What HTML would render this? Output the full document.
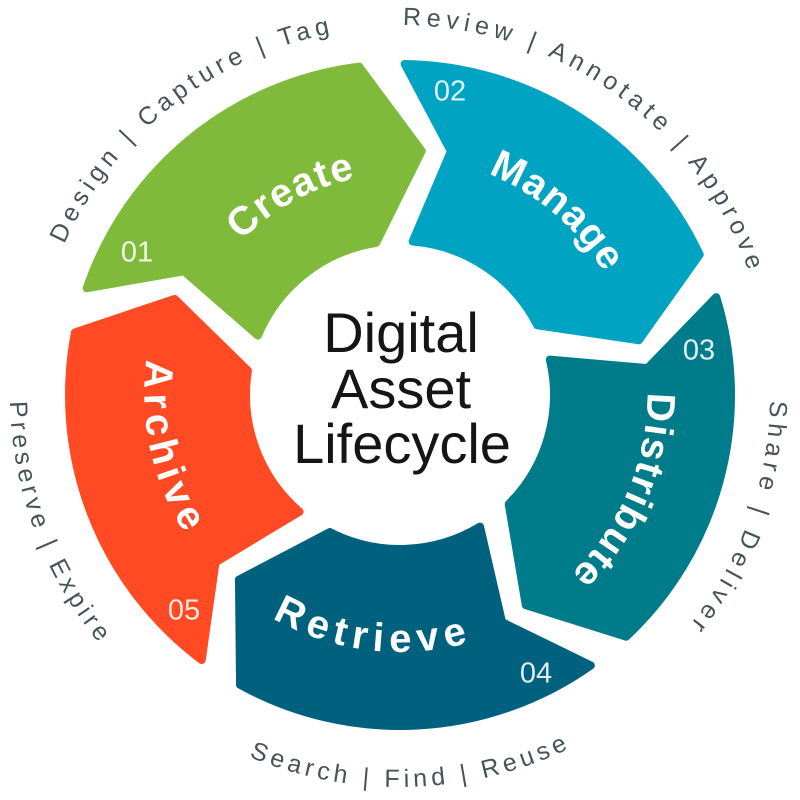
<!DOCTYPE html>
<html>
<head>
<meta charset="utf-8">
<style>
  html, body { margin: 0; padding: 0; background: #ffffff; }
  body { width: 800px; height: 800px; overflow: hidden; }
  svg { display: block; }
  .lbl { font-family: "Liberation Sans", Arial, sans-serif; font-weight: bold; fill: #ffffff; font-size: 40px; }
  .out { font-family: "Liberation Sans", Arial, sans-serif; font-weight: normal; fill: #46545a; font-size: 25px; }
  .num { font-family: "Liberation Sans", Arial, sans-serif; font-weight: 300; fill: #ffffff; fill-opacity: 0.88; font-size: 29px; }
  .title { font-family: "Liberation Sans", Arial, sans-serif; font-weight: normal; fill: #151515; font-size: 56px; }
</style>
</head>
<body>
<svg width="800" height="800" viewBox="0 0 800 800" xmlns="http://www.w3.org/2000/svg">
  <defs>
    <path id="seg" d="M404.62,64.03 A331,331 0 0 1 699.74,254.59 L638.82,340.30 L537.31,325.33 A154,154 0 0 0 412.62,241.52 L450.92,151.26 Z"/>
    <path id="pCreate" d="M205.09,501.27 A222,222 0 0 1 594.91,288.73" fill="none"/>
    <path id="pManage" d="M219.02,240.43 A238,238 0 0 1 580.98,549.57" fill="none"/>
    <path id="pDistribute" d="M497.29,165.8 A249,249 0 0 1 302.71,624.2" fill="none"/>
    <path id="pRetrieve" d="M144.65,365.91 A257,257 0 0 0 655.35,424.09" fill="none"/>
    <path id="pArchive" d="M342.19,144.59 A257,257 0 0 0 457.81,645.41" fill="none"/>
    <path id="oDesign" d="M108.44,622.79 A370,370 0 0 1 691.56,167.21" fill="none"/>
    <path id="oReview" d="M99.91,178.56 A370,370 0 0 1 700.09,611.44" fill="none"/>
    <path id="oShare" d="M526.55,47.31 A370,370 0 0 1 273.45,742.69" fill="none"/>
    <path id="oSearch" d="M8.17,406.63 A392,392 0 0 0 791.83,383.37" fill="none"/>
    <path id="oPreserve" d="M262.72,27.83 A392,392 0 0 0 537.28,762.17" fill="none"/>
  </defs>

  <!-- segments -->
  <g stroke-width="8" stroke-linejoin="round">
    <use href="#seg" fill="#00A4C2" stroke="#00A4C2"/>
    <use href="#seg" transform="rotate(72 400 395)" fill="#007B8A" stroke="#007B8A"/>
    <use href="#seg" transform="rotate(144 400 395)" fill="#00617E" stroke="#00617E"/>
    <use href="#seg" transform="rotate(216 400 395)" fill="#FF4A24" stroke="#FF4A24"/>
    <use href="#seg" transform="rotate(288 400 395)" fill="#80BA3B" stroke="#80BA3B"/>
  </g>

  <!-- segment labels -->
  <text class="lbl" text-anchor="middle" letter-spacing="1.4"><textPath href="#pCreate" startOffset="50%">Create</textPath></text>
  <text class="lbl" text-anchor="middle" letter-spacing="1.2"><textPath href="#pManage" startOffset="50%">Manage</textPath></text>
  <text class="lbl" text-anchor="middle" letter-spacing="1.7"><textPath href="#pDistribute" startOffset="50%">Distribute</textPath></text>
  <text class="lbl" text-anchor="middle" letter-spacing="6.4"><textPath href="#pRetrieve" startOffset="50%">Retrieve</textPath></text>
  <text class="lbl" text-anchor="middle" letter-spacing="5.8"><textPath href="#pArchive" startOffset="50%">Archive</textPath></text>

  <!-- numbers -->
  <text class="num" x="137" y="261.5" text-anchor="middle">01</text>
  <text class="num" x="450" y="100.5" text-anchor="middle">02</text>
  <text class="num" x="699" y="359.5" text-anchor="middle">03</text>
  <text class="num" x="536" y="682.5" text-anchor="middle">04</text>
  <text class="num" x="184" y="619.5" text-anchor="middle">05</text>

  <!-- outer labels -->
  <text class="out" text-anchor="middle" letter-spacing="5.0"><textPath href="#oDesign" startOffset="50%">Design | Capture | Tag</textPath></text>
  <text class="out" text-anchor="middle" letter-spacing="5.3"><textPath href="#oReview" startOffset="50%">Review | Annotate | Approve</textPath></text>
  <text class="out" text-anchor="middle" letter-spacing="5.5"><textPath href="#oShare" startOffset="50%">Share | Deliver</textPath></text>
  <text class="out" text-anchor="middle" letter-spacing="4.4"><textPath href="#oSearch" startOffset="50%">Search | Find | Reuse</textPath></text>
  <text class="out" text-anchor="middle" letter-spacing="4.4"><textPath href="#oPreserve" startOffset="50%">Preserve | Expire</textPath></text>

  <!-- center title -->
  <text class="title" x="401" y="352" text-anchor="middle">Digital</text>
  <text class="title" x="401" y="408" text-anchor="middle">Asset</text>
  <text class="title" x="402" y="463" text-anchor="middle">Lifecycle</text>
</svg>
</body>
</html>
